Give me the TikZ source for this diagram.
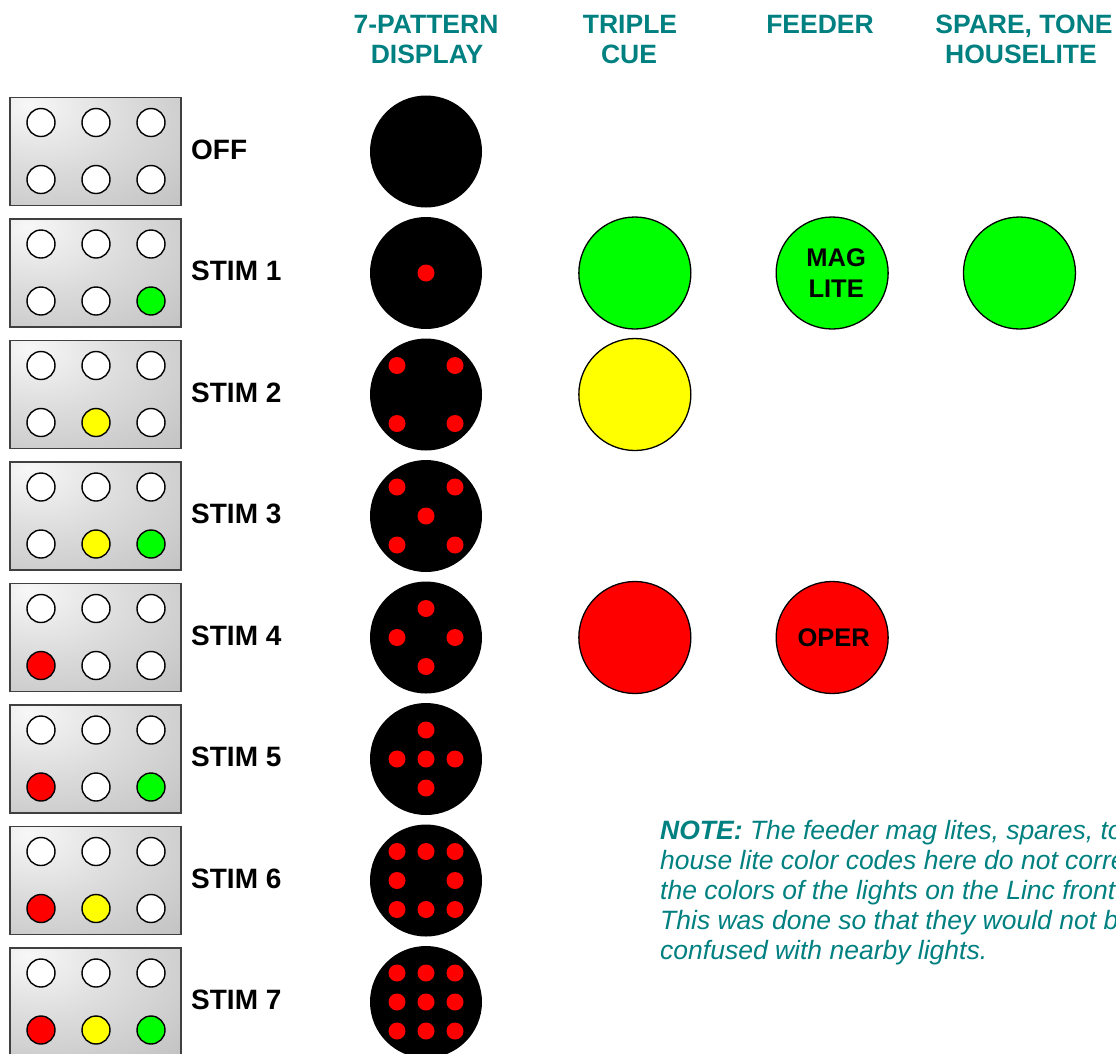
\documentclass[tikz,border=0pt]{standalone}
\usepackage{fontspec}
\setmainfont{Liberation Sans}
\usetikzlibrary{positioning}
\definecolor{noteteal}{RGB}{0,128,128}
\definecolor{litegreen}{RGB}{0,255,0}
\definecolor{liteyellow}{RGB}{255,255,0}
\definecolor{litered}{RGB}{255,0,0}
\pgfdeclareradialshading{panelglow}{\pgfpoint{-20bp}{22bp}}{color(0bp)=(white!97!black); color(25bp)=(white!86!black); color(55bp)=(white!75!black); color(110bp)=(white!70!black)}
\tikzset{
  panel/.style={rectangle,draw=black!75,line width=1.5pt,shade,shading=panelglow,minimum width=171pt,minimum height=108pt,inner sep=0pt},
  lamp/.style={circle,draw,line width=1.4pt,minimum size=28pt,inner sep=0pt},
  patdisk/.style={circle,fill=black,minimum size=112pt,inner sep=0pt},
  bulb/.style={circle,draw,line width=1.3pt,minimum size=112pt,inner sep=0pt,align=center,font=\fontsize{25.5}{31}\selectfont\bfseries},
  head/.style={anchor=base,inner sep=0pt,text=noteteal,font=\fontsize{26.5}{30}\selectfont\bfseries},
  stimlab/.style={anchor=base west,inner sep=0pt,font=\fontsize{28}{32}\selectfont\bfseries},
  notetxt/.style={anchor=base west,inner sep=0pt,text=noteteal,font=\fontsize{26.5}{30}\selectfont\itshape}
}
\begin{document}
\begin{tikzpicture}[x=1pt,y=-1pt]
  \useasboundingbox (0,0) rectangle (1116,1053);
  \clip (0,0) rectangle (1116,1053);
  % column heads
  \node[head] (hdisp) at (426,33) {7-PATTERN};
  \node[head] (hdisp2) at (427,63) {DISPLAY};
  \node[head] (hcue) at (630,33) {TRIPLE};
  \node[head] (hcue2) at (629,63) {CUE};
  \node[head] (hfeed) at (820,33) {FEEDER};
  \node[head] (hspare) at (1024,33) {SPARE, TONE};
  \node[head] (hspare2) at (1021,63) {HOUSELITE};
  % one row per state: panel, label, pattern disk
  \foreach \n [evaluate=\n as \yc using 151.5+121.5*\n] in {0,...,7}{
    \pgfmathtruncatemacro{\ybit}{mod(floor(\n/2),2)}
    \pgfmathtruncatemacro{\rbit}{floor(\n/4)}
    \ifodd\rbit \def\cA{litered}\else\def\cA{white}\fi
    \ifodd\ybit \def\cB{liteyellow}\else\def\cB{white}\fi
    \ifodd\n \def\cC{litegreen}\else\def\cC{white}\fi
    \node[panel] (pan\n) at (95.5,\yc) {};
    \foreach \c/\x in {1/41,2/96,3/151}
      \node[lamp,fill=white] (up\n\c) at (\x,\yc-29) {};
    \node[lamp,fill=\cA] (lo\n1) at (41,\yc+28) {};
    \node[lamp,fill=\cB] (lo\n2) at (96,\yc+28) {};
    \node[lamp,fill=\cC] (lo\n3) at (151,\yc+28) {};
    \node[stimlab] (lab\n) at (191,\yc+7.5) {\ifnum\n=0 OFF\else STIM \n\fi};
    \node[patdisk] (disp\n) at (426,\yc) {};
  }
  % red dots of the seven patterns
  \foreach \n/\pat in {
    1/{0/0},
    2/{-1/-1,1/-1,-1/1,1/1},
    3/{-1/-1,1/-1,0/0,-1/1,1/1},
    4/{0/-1,-1/0,1/0,0/1},
    5/{0/-1,-1/0,0/0,1/0,0/1},
    6/{-1/-1,0/-1,1/-1,-1/0,1/0,-1/1,0/1,1/1},
    7/{-1/-1,0/-1,1/-1,-1/0,0/0,1/0,-1/1,0/1,1/1}}{
    \foreach \dx/\dy in \pat
      \fill[litered] ([shift={(29*\dx,29*\dy)}]disp\n.center) circle (8.5pt);
  }
  % cue, feeder and spare lights
  \node[bulb,fill=litegreen,right=96pt of disp1] (cue1) {};
  \node[bulb,fill=liteyellow,right=96pt of disp2] (cue2) {};
  \node[bulb,fill=litered,right=96pt of disp4] (cue4) {};
  \node[bulb,fill=litegreen,right=84pt of cue1] (feed1) {\hspace*{8pt}MAG\\\hspace*{8pt}LITE};
  \node[bulb,fill=litered,right=84pt of cue4] (feed4) {\hspace*{3pt}OPER};
  \node[bulb,fill=litegreen,right=74pt of feed1] (spare1) {};
  % note
  \node[notetxt] (note1) at (660,839) {{\bfseries NOTE:} The feeder mag lites, spares, to};
  \node[notetxt] (note2) at (660,869) {house lite color codes here do not corre};
  \node[notetxt] (note3) at (660,899) {the colors of the lights on the Linc front};
  \node[notetxt] (note4) at (660,929) {This was done so that they would not b};
  \node[notetxt] (note5) at (660,959) {confused with nearby lights.};
\end{tikzpicture}
\end{document}
